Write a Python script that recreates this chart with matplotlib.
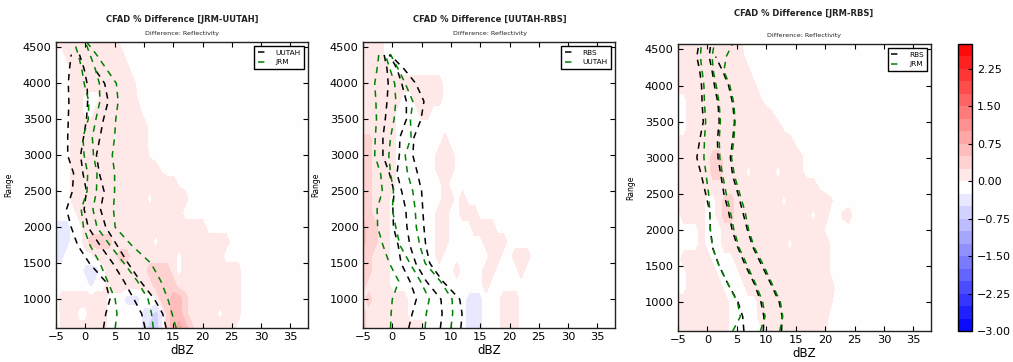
import numpy as np
import matplotlib
matplotlib.use("Agg")
import matplotlib.pyplot as plt

nan = np.nan

# ---------------------------------------------------------------- profiles
# Heights (m) of the percentile profiles
prof_hgt = [600, 800, 1000, 1250, 1500, 1750, 2000, 2250, 2500, 2750,
            3000, 3250, 3500, 3750, 4000, 4200, 4400, 4600]

# Panel 1: JRM - UUTAH   (black = UUTAH, green = JRM)
p1_black_lo = [3.1, 3.5, 4.2, 3.4, 0.7, -1.3, -2.4, -3.2, -2.2, -2.0, -3.0, -3.0, -2.9, -2.8, -2.9, -2.7, -2.4, nan]
p1_black_md = [10.2, 9.6, 8.3, 6.6, 4.7, 2.5, 0.5, -0.2, 0.2, -0.4, -0.8, -0.3, 0.2, 0.4, 0.3, -0.2, -1.0, nan]
p1_black_hi = [13.8, 13.2, 11.8, 9.4, 7.3, 5.4, 3.5, 2.6, 3.2, 2.4, 1.9, 2.5, 3.1, 3.9, 3.3, 1.6, nan, nan]
p1_green_lo = [5.1, 5.4, 5.1, 3.8, 2.5, 0.8, -0.3, -0.7, 0.3, 0.4, -0.2, -0.4, 0.5, 0.6, -0.2, -0.6, -1.2, -2.0]
p1_green_md = [11.6, 11.3, 10.7, 8.9, 6.6, 4.2, 2.0, 1.3, 1.9, 2.0, 1.4, 1.2, 1.8, 2.5, 2.4, 1.7, 0.8, -0.1]
p1_green_hi = [15.5, 14.8, 14.1, 12.9, 11.2, 7.9, 5.1, 4.8, 5.0, 5.0, 4.6, 5.0, 5.2, 5.6, 5.3, 3.6, 1.9, 0.0]

# Panel 2: UUTAH - RBS   (black = RBS, green = UUTAH)
p2_black_lo = [2.8, 3.4, 4.1, 3.0, 1.5, 1.0, 0.2, 0.1, 0.3, -0.5, -1.6, -1.6, -1.2, -0.9, -0.7, -0.9, -1.4, nan]
p2_black_md = [8.2, 8.5, 8.3, 5.8, 4.0, 3.0, 2.5, 2.3, 1.6, 0.8, 1.2, 1.3, 2.4, 2.4, 1.6, 0.8, -0.5, nan]
p2_black_hi = [11.7, 11.9, 11.5, 8.6, 6.4, 5.7, 5.4, 5.2, 5.0, 4.3, 3.5, 3.7, 4.9, 5.4, 4.0, 2.0, -0.4, nan]
p2_green_lo = [-0.3, -0.2, 0.0, 1.1, -0.5, -1.6, -2.5, -2.6, -1.7, -2.0, -3.0, -2.9, -2.7, -2.8, -3.0, -2.6, -2.3, nan]
p2_green_md = [5.6, 5.8, 6.3, 4.8, 3.0, 1.3, 0.6, 0.0, 0.2, -0.3, -0.6, -0.3, 0.3, 0.6, 0.4, -0.4, -1.2, nan]
p2_green_hi = [10.0, 10.3, 10.2, 8.2, 5.6, 4.7, 4.1, 3.9, 3.5, 2.6, 2.2, 3.2, 3.1, 3.5, 2.2, 1.0, -0.3, nan]

# Panel 3: JRM - RBS   (black = RBS, green = JRM)
p3_black_lo = [6.2, 6.0, 5.2, 3.5, 2.0, 0.9, 0.5, 0.4, -0.3, -1.0, -1.8, -1.3, -0.7, -0.9, -1.0, -1.3, -1.8, -1.4]
p3_black_md = [9.5, 9.6, 9.1, 8.0, 6.5, 5.2, 4.2, 3.6, 2.8, 2.3, 1.8, 1.7, 2.0, 1.8, 1.2, 0.8, 0.3, 0.6]
p3_black_hi = [12.6, 12.7, 12.2, 10.8, 9.3, 7.8, 6.8, 6.0, 5.2, 4.3, 3.9, 4.3, 4.6, 4.3, 3.6, 2.6, 1.4, nan]
p3_green_lo = [4.3, 5.6, 5.1, 3.5, 2.0, 0.9, 0.5, 0.4, 0.2, -0.2, -0.6, -0.5, -0.3, -0.5, -0.6, -0.9, -1.2, -1.0]
p3_green_md = [9.0, 9.8, 9.4, 8.2, 6.8, 5.4, 4.5, 3.9, 3.2, 2.6, 2.1, 2.0, 2.2, 2.0, 1.5, 1.0, 0.8, 1.2]
p3_green_hi = [12.3, 12.8, 12.4, 11.0, 9.6, 8.0, 7.0, 6.4, 5.5, 4.6, 4.1, 4.5, 4.7, 4.5, 3.8, 2.8, 3.2, 4.4]

# ---------------------------------------------------------------- difference fields
# Reflectivity bins: 1 dBZ wide, from -5 to 38 (one character per bin)
field_dbz = list(range(-5, 39))
# Heights (m) of the grid rows, top to bottom
field_hgt = [4600, 4400, 4200, 4000, 3800, 3600, 3400, 3200, 3000, 2800, 2600,
             2400, 2200, 2000, 1800, 1600, 1400, 1200, 1000, 800, 600]

# Difference class of each grid cell (rows are padded with '.' on the right)
shade_value = {'.': -0.1, 'q': -0.03, 'p': 0.03, 'a': 0.12, 'b': 0.37,
               'c': 0.62, 'd': 0.87, '-': -0.37, '=': -0.62}

p1_field = [
    "aaaaaaaaaaa",
    "..aaaaaaaaaa",
    "...aaaaaaaaaa",
    "...aaaaaaaaaaa",
    "...aa...aaaaaaq",
    "...aa..aaaaaaaa",
    "...aaaaaaaaaaaaa",
    "...aaaaaaa.aaaaa",
    "...aaaaaaaaaaaaaq",
    "...aaaaaaaaaaaaaaaq",
    "...aaaaaaaaaaaaaaaaaaq",
    "...aaaaaaaaaaaaa.aaaaaa",
    "....aaaaaaaaaaaaaaaaaa",
    "---..aaaaaaaaaaaaaaaaaaaaa",
    "---..abbbbaaaaaaa.aaaaaaaaaaaa",
    "--.....aaaabbaaaaaaaa.aaaaaaa",
    ".....---.aaaaaaabbbba.aaaaaaaaaa",
    "......-..aaaaaaaabbbbaaaaaaaaaaa",
    ".aaaaaaaa...---...bbccbaaaaaaaaa",
    "-aaa..aaa......--=-bccbaaaaa.aaa",
    "-aaaaaaaa......-==-bcdcbaaaaaaa",
]

p2_field = [
    "aaaa",
    "aaaa",
    "aaaaa",
    "aaaaaaaaaaaaaa",
    "aaaaaaa..aaaaa",
    "aaaaaa....aa",
    "aaaaaa",
    "bbaaaa........a",
    "bbaaaa.......aaa",
    "bbaaaa.......aaa",
    "bbaaaa........a",
    "bbaaa.........aa.a",
    "bbaaa........aa..aaa",
    "cbbaa........aa....aaaa",
    "cbbaa........aa......aaaa",
    "bbaaa........a........aa..aaa",
    "bbaaa...........a....aa....a",
    "baaaa................a",
    "abaaaaaa..........---...aaa",
    "baaaaaaa..........---...aaa",
    "baaaaaaaaaa.......---...aaa",
]

p3_field = [
    "aaaaaaaaaaaq",
    "aaaaaaaaaaap",
    "aaaaaaaaaaaap",
    "aaaaaaaaaaaaap",
    "..aaaaaaaaaaaap",
    "..aaaaaaaaaaaaaap",
    "..aaaaaaaaaaaaaaaaq",
    "aaaaaaaaaaaaaaaaaaaaq",
    "aaaaaabbaaaaaaaaaaaaap",
    "aaaaaabbaaaa.aaaa.aaap",
    "aaaaaaaaaaaaaaaaaaaaaaaaq",
    "aaaaa..abbaaaaaaaa.aaaaaaap",
    ".aaaa..abbaaaaaaaaaaaaa.aa..pa",
    "....a...aaaaaaaaaaaaaaaaaq",
    "....a...aaaaaaaaaaa.aaaaaaq",
    ".aaaaa....aaaaaaaaaaaaaaaaq",
    "..aaaaa....aaaaaaaaaaaaaaaq",
    "..aaaaaa....aaaaaaaaaaaaaaa",
    "aaaaaaaaa.....aaaaaaaaaaaap",
    "aaaaaaaaa.....aaaaaaaaaaaa",
    "aaaaaaaaa......aaaaaaaaaap",
]

levels = np.arange(-3.0, 3.0, 0.25)
cbar_ticks = [-3.0, -2.25, -1.5, -0.75, 0.0, 0.75, 1.5, 2.25]


def decode(rows):
    n = len(field_dbz)
    return np.array([[shade_value[c] for c in r.ljust(n, '.')[:n]] for r in rows])


panels = [
    dict(field=p1_field, title="CFAD % Difference [JRM-UUTAH]",
         black=(p1_black_lo, p1_black_md, p1_black_hi),
         green=(p1_green_lo, p1_green_md, p1_green_hi),
         labels=("UUTAH", "JRM"),
         rect=[56 / 1013, 1 - 328 / 362, 252 / 1013, 286 / 362],
         tx=182, ty=19, sy=33),
    dict(field=p2_field, title="CFAD % Difference [UUTAH-RBS]",
         black=(p2_black_lo, p2_black_md, p2_black_hi),
         green=(p2_green_lo, p2_green_md, p2_green_hi),
         labels=("RBS", "UUTAH"),
         rect=[363 / 1013, 1 - 328 / 362, 252 / 1013, 286 / 362],
         tx=490, ty=19, sy=33),
    dict(field=p3_field, title="CFAD % Difference [JRM-RBS]",
         black=(p3_black_lo, p3_black_md, p3_black_hi),
         green=(p3_green_lo, p3_green_md, p3_green_hi),
         labels=("RBS", "JRM"),
         rect=[678 / 1013, 1 - 331 / 362, 253 / 1013, 287 / 362],
         tx=804, ty=14, sy=36),
]

fig = plt.figure(figsize=(10.13, 3.62), dpi=100)
W, H = 1013.0, 362.0
dash = (0, (4.2, 3.6))

for p in panels:
    ax = fig.add_axes(p["rect"])
    X, Y = np.meshgrid(field_dbz, field_hgt)
    cf = ax.contourf(X, Y, decode(p["field"]), levels=levels, cmap="bwr")

    for i, prof in enumerate(p["black"]):
        ax.plot(prof, prof_hgt, color="black", lw=1.1, linestyle=dash,
                label=p["labels"][0] if i == 0 else None)
    for i, prof in enumerate(p["green"]):
        ax.plot(prof, prof_hgt, color="#008000", lw=1.1, linestyle=dash,
                label=p["labels"][1] if i == 0 else None)

    ax.set_xlim(-5, 38)
    ax.set_ylim(600, 4575)
    ax.set_xticks([-5, 0, 5, 10, 15, 20, 25, 30, 35])
    ax.set_yticks([1000, 1500, 2000, 2500, 3000, 3500, 4000, 4500])
    ax.tick_params(direction="in", top=True, right=True, length=3.5,
                   width=0.8, labelsize=8.2, pad=3)
    for s in ax.spines.values():
        s.set_linewidth(1.0)
        s.set_color("#222222")
    ax.set_xlabel("dBZ", fontsize=8.5, labelpad=1)
    ax.set_ylabel("Range", fontsize=5.5)
    ax.yaxis.set_label_coords(-0.17, 0.5)

    leg = ax.legend(loc="upper right", fontsize=5.3, handlelength=1.2,
                    fancybox=False, framealpha=1, edgecolor="black",
                    borderpad=0.5, labelspacing=0.5, handletextpad=1.2,
                    borderaxespad=0.5)
    leg.get_frame().set_linewidth(1.0)

    fig.text(p["tx"] / W, 1 - p["ty"] / H, p["title"], ha="center",
             va="center", fontsize=6, fontweight="bold", color="#222222")
    fig.text(p["tx"] / W, 1 - p["sy"] / H, "Difference: Reflectivity",
             ha="center", va="center", fontsize=4.6, color="#222222")

cax = fig.add_axes([958 / 1013, 1 - 331 / 362, 14 / 1013, 287 / 362])
cb = fig.colorbar(cf, cax=cax, ticks=cbar_ticks)
cb.ax.set_yticklabels(["%.2f" % t if t >= 0 else "\u2212%.2f" % -t for t in cbar_ticks])
cb.ax.tick_params(direction="in", length=3, labelsize=8, width=0.8)
cb.outline.set_linewidth(1.0)

fig.savefig("out.png", dpi=100)
